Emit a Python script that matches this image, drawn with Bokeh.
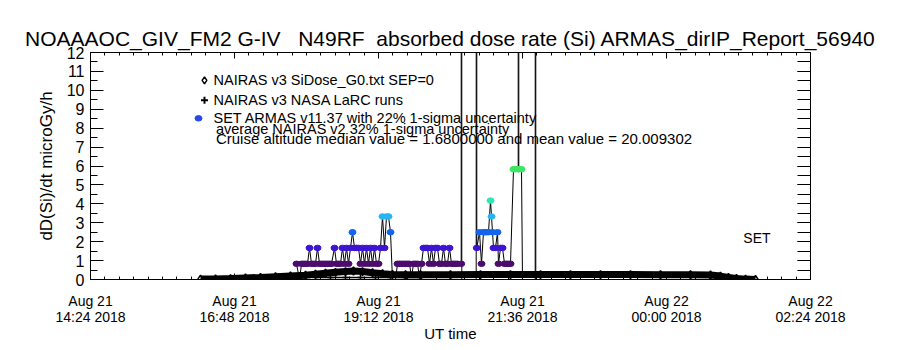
from bokeh.plotting import figure
from bokeh.models import LinearAxis, FixedTicker, Label, ColumnDataSource
from bokeh.embed import file_html
from bokeh.resources import INLINE

FONT = "Liberation Sans"
TITLE = "NOAAAOC_GIV_FM2 G-IV\u00a0\u00a0\u00a0N49RF\u00a0\u00a0absorbed dose rate (Si) ARMAS_dirIP_Report_56940"

# x axis: UT hours of Aug 21 2018 (values >24 are Aug 22)
x_ticks = [14.4, 16.8, 19.2, 21.6, 24.0, 26.4]
x_tick_labels = ["Aug 21\n14:24 2018", "Aug 21\n16:48 2018", "Aug 21\n19:12 2018",
                 "Aug 21\n21:36 2018", "Aug 22\n00:00 2018", "Aug 22\n02:24 2018"]
y_ticks = [0, 1, 2, 3, 4, 5, 6, 7, 8, 9, 10, 11, 12]

# NAIRAS v3 SiDose_G0 model (UT minutes of Aug 21, microGy/h)
nairas_min = [974, 989, 1004, 1019, 1034, 1049, 1064, 1079, 1089, 1099, 1109, 1119, 1127,
              1136, 1146, 1156, 1166, 1179, 1194, 1224, 1254, 1284, 1314, 1344, 1374, 1404,
              1434, 1464, 1484, 1494, 1502, 1510, 1519, 1529]
nairas_dose = [0.02, 0.03, 0.05, 0.08, 0.11, 0.15, 0.19, 0.23, 0.28, 0.33, 0.38, 0.42, 0.45,
               0.42, 0.36, 0.31, 0.27, 0.25, 0.25, 0.25, 0.26, 0.26, 0.26, 0.26, 0.26, 0.26,
               0.25, 0.25, 0.24, 0.18, 0.11, 0.06, 0.02, 0.0]

# NAIRAS v3 NASA LaRC runs
larc_min = [1008, 1089, 1104, 1119, 1134, 1149, 1164, 1179, 1194]
larc_dose = [0.08, 0.10, 0.10, 0.10, 0.10, 0.10, 0.10, 0.10, 0.10]

# SET ARMAS v11.37 measurements (values above 12 are off scale)
set_min = [1070, 1073, 1075, 1077, 1079, 1081, 1083, 1085, 1087, 1089, 1091, 1093, 1095, 1097,
           1099, 1101, 1103, 1105, 1108, 1110, 1112, 1114, 1116, 1118, 1120, 1122, 1124, 1126,
           1128, 1130, 1132, 1134, 1136, 1138, 1140, 1142, 1144, 1146, 1148, 1150, 1152, 1154,
           1156, 1158, 1160, 1162, 1164, 1166, 1169, 1171, 1173, 1175, 1177, 1179, 1181, 1183,
           1185, 1187, 1189, 1191, 1193, 1195, 1197, 1199, 1201, 1203, 1205, 1207, 1209, 1211,
           1213, 1215, 1217, 1219, 1221, 1223, 1225, 1227, 1229, 1231, 1234.7, 1235, 1235.3, 1242,
           1249.7, 1250, 1250.3, 1253, 1255, 1257, 1258, 1260, 1262, 1264, 1265, 1266, 1267, 1269,
           1271, 1272, 1274, 1276, 1278, 1280, 1282, 1284, 1287, 1289, 1291.7, 1292, 1292.3, 1295,
           1296, 1308.7, 1309, 1309.3]
set_dose = [0.83, 0.0, 0.83, 0.83, 0.83, 0.83, 1.67, 0.83, 0.83, 0.83, 1.67, 0.83, 0.83, 0.83,
            0.83, 0.83, 0.83, 0.83, 1.67, 0.83, 0.83, 0.83, 1.67, 0.83, 1.67, 0.83, 1.67, 2.5,
            1.67, 1.67, 1.67, 0.83, 1.67, 0.83, 1.67, 0.83, 1.67, 0.83, 1.67, 0.83, 0.83, 1.67,
            3.33, 1.67, 3.33, 3.33, 2.5, 0.0, 0.0, 0.83, 0.83, 0.83, 0.83, 0.83, 0.83, 0.83,
            0.1, 0.83, 0.83, 0.83, 0.1, 0.83, 1.67, 1.67, 1.67, 0.83, 1.67, 0.83, 1.67, 1.67,
            0.83, 0.83, 1.67, 0.83, 0.83, 1.67, 0.83, 0.83, 0.83, 0.83, 0.83, 900.0, 0.0, 0.0,
            0.0, 900.0, 1.67, 2.5, 0.83, 2.5, 2.5, 2.5, 2.5, 4.17, 3.33, 2.5, 1.67, 1.67,
            2.5, 0.83, 1.67, 1.67, 0.83, 0.83, 0.83, 0.83, 5.83, 5.83, 5.83, 900.0, 5.83, 5.83,
            0.0, 0.0, 900.0, 0.0]

level_colors = {0.83: "#4b0c6e", 1.67: "#3c14d2", 2.5: "#1464f0", 3.33: "#28b4f0",
                4.17: "#2ee6b4", 5.83: "#3ce664"}

legend_lines = ["NAIRAS v3 SiDose_G0.txt SEP=0", "NAIRAS v3 NASA LaRC runs",
                "SET ARMAS v11.37 with 22% 1-sigma uncertainty"]
note_lines = ["average NAIRAS v2 32% 1-sigma uncertainty",
              "Cruise altitude median value = 1.6800000 and mean value = 20.009302"]

p = figure(width=900, height=350, x_range=(14.4, 26.4), y_range=(0, 12),
           output_backend="svg", toolbar_location=None,
           min_border_left=90, min_border_right=90, min_border_top=52, min_border_bottom=71,
           title=TITLE)
p.title.text_font = FONT
p.title.text_font_size = "21px"
p.title.text_font_style = "normal"
p.title.text_color = "black"
p.title.align = "center"
p.title.standoff = 5
p.grid.visible = False
p.outline_line_color = "black"
p.background_fill_color = "white"
p.border_fill_color = "white"

xt = FixedTicker(ticks=x_ticks, minor_ticks=[14.4 + 0.24 * k for k in range(51)])
yt = FixedTicker(ticks=y_ticks, minor_ticks=[0.5 * k for k in range(25)])

xa = p.xaxis[0]
xa.ticker = xt
xa.major_label_overrides = {t: s for t, s in zip(x_ticks, x_tick_labels)}
xa.axis_label = "UT time"
ya = p.yaxis[0]
ya.ticker = yt
ya.axis_label = "dD(Si)/dt microGy/h"

for ax in (xa, ya):
    ax.major_label_text_font = FONT
    ax.axis_label_text_font = FONT
    ax.axis_label_text_font_style = "normal"
    ax.axis_label_text_color = "black"
    ax.major_label_text_color = "black"
    ax.axis_line_color = "black"
    ax.major_tick_line_color = "black"
    ax.minor_tick_line_color = "black"
    ax.major_tick_out = 0
    ax.minor_tick_out = 0

xa.major_label_text_font_size = "14px"
xa.major_label_text_line_height = 1.0
xa.major_label_standoff = 13
xa.major_tick_in = 6
xa.minor_tick_in = 3
xa.axis_label_text_font_size = "15px"
xa.axis_label_standoff = -3
ya.major_label_text_font_size = "16px"
ya.major_label_standoff = 6
ya.major_tick_in = 13
ya.minor_tick_in = 7
ya.axis_label_text_font_size = "17px"
ya.axis_label_standoff = 8

top = LinearAxis(ticker=xt, major_label_text_color=None, major_label_standoff=0,
                 major_tick_in=6, major_tick_out=0, minor_tick_in=3, minor_tick_out=0,
                 axis_line_color="black")
right = LinearAxis(ticker=yt, major_label_text_color=None, major_label_standoff=0,
                   major_tick_in=13, major_tick_out=0, minor_tick_in=13, minor_tick_out=0,
                   axis_line_color="black")
p.add_layout(top, "above")
p.add_layout(right, "right")

# SET series: connecting line and coloured markers
set_hr = [m / 60.0 for m in set_min]
p.line(set_hr, set_dose, line_color="black", line_width=1)
mk = [(h, d, level_colors[d]) for h, d in zip(set_hr, set_dose) if d in level_colors]
src = ColumnDataSource(dict(x=[a[0] for a in mk], y=[a[1] for a in mk], c=[a[2] for a in mk]))
p.ellipse("x", "y", width=7, height=5.5, width_units="screen", height_units="screen",
          fill_color="c", line_color="c", source=src)

# NAIRAS model
nairas_hr = [m / 60.0 for m in nairas_min]
p.line(nairas_hr, nairas_dose, line_color="black", line_width=7)
p.scatter(nairas_hr, nairas_dose, marker="diamond", size=8, fill_color=None,
          line_color="black", line_width=1.5)
larc_hr = [m / 60.0 for m in larc_min]
p.line(larc_hr[1:], larc_dose[1:], line_color="black", line_width=1.5)
p.scatter(larc_hr, larc_dose, marker="cross", size=6, line_color="black", line_width=1.5)

# legend (IDL style, inside the plot)
p.scatter([16.30], [10.53], marker="diamond", size=7, fill_color=None, line_color="black", line_width=1.5)
p.scatter([16.30], [9.47], marker="cross", size=7, line_color="black", line_width=2)
p.ellipse([16.20], [8.52], width=7, height=5.5, width_units="screen", height_units="screen",
          fill_color="#2848e8", line_color="#2848e8")
for txt, yy in zip(legend_lines, [10.53, 9.47, 8.52]):
    p.add_layout(Label(x=16.45, y=yy, text=txt, text_font=FONT, text_font_size="14.5px",
                       text_baseline="middle", text_align="left", text_color="black"))
for txt, yy, fs in zip(note_lines, [7.94, 7.46], ["14.5px", "15px"]):
    p.add_layout(Label(x=16.49, y=yy, text=txt, text_font=FONT, text_font_size=fs,
                       text_baseline="middle", text_align="left", text_color="black"))
p.add_layout(Label(x=25.28, y=2.22, text="SET", text_font=FONT, text_font_size="14px",
                   text_baseline="middle", text_align="left", text_color="black"))

open("out.html", "w").write(file_html(p, INLINE))
